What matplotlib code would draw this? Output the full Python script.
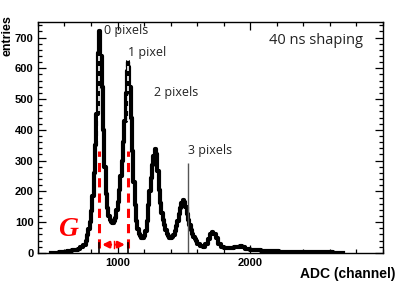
import matplotlib.pyplot as plt
from matplotlib.ticker import MultipleLocator

# ADC bin (left edge) and entries
adc = [500, 520, 540, 560, 580, 600, 620, 640, 660, 680, 700, 720, 740, 760, 770,
       780, 790, 800, 810, 820, 830, 840, 850, 855, 860, 865, 870, 880, 890, 900,
       910, 920, 930, 940, 950, 960, 970, 980, 990, 1000, 1010, 1020, 1030, 1040,
       1050, 1060, 1070, 1075, 1080, 1085, 1090, 1100, 1110, 1120, 1130, 1140,
       1150, 1160, 1170, 1180, 1190, 1200, 1210, 1220, 1230, 1240, 1250, 1260,
       1270, 1280, 1285, 1290, 1300, 1310, 1320, 1330, 1340, 1350, 1360, 1370,
       1380, 1390, 1400, 1410, 1420, 1430, 1440, 1450, 1460, 1470, 1480, 1490,
       1500, 1510, 1520, 1530, 1540, 1550, 1560, 1570, 1580, 1590, 1600, 1620,
       1640, 1660, 1680, 1700, 1710, 1720, 1740, 1760, 1780, 1800, 1820, 1840,
       1860, 1880, 1900, 1920, 1940, 1960, 1980, 2000, 2020, 2040, 2060, 2080,
       2100, 2120, 2140, 2160, 2180, 2200, 2220, 2240, 2260, 2280, 2300, 2340,
       2380, 2420, 2460, 2500, 2540, 2580, 2620, 2660, 2700]
entries = [0, 1, 1, 2, 3, 4, 5, 6, 8, 10, 13, 18, 26, 40, 58,
           78, 100, 135, 185, 260, 350, 450, 570, 650, 720, 690, 640, 540, 400, 280,
           190, 145, 120, 108, 102, 98, 104, 115, 138, 165, 205, 250, 300, 360,
           430, 520, 590, 620, 605, 590, 540, 440, 330, 230, 155, 105,
           78, 62, 55, 50, 48, 55, 72, 105, 155, 200, 245, 285,
           315, 330, 338, 322, 265, 205, 162, 130, 107, 90, 75, 62,
           55, 50, 48, 52, 58, 70, 88, 105, 125, 145, 162, 172,
           165, 148, 128, 108, 90, 75, 62, 52, 45, 38, 30, 22,
           19, 28, 45, 60, 68, 62, 48, 30, 20, 17, 15, 15,
           16, 18, 20, 22, 18, 14, 12, 10, 10, 9, 8, 7,
           7, 6, 6, 5, 5, 5, 4, 4, 4, 3, 3, 3,
           3, 2, 2, 3, 2, 2, 1, 1, 1]

# thin single-channel spike near the 3 pixel peak
spike_adc = [1532]
spike_val = [293]

# peaks used for the gain G
peak_adc = [862, 1078]

fig = plt.figure(figsize=(3.99, 2.99), dpi=100)
ax = fig.add_axes([0.095, 0.154, 0.865, 0.772])

ax.step(adc, entries, where='post', color='black', lw=3, zorder=3)
ax.vlines(spike_adc, 0, spike_val, color='#555555', lw=1, zorder=3)

ax.set_xlim(400, 3000)
ax.set_ylim(0, 750)

ax.xaxis.set_major_locator(MultipleLocator(1000))
ax.xaxis.set_minor_locator(MultipleLocator(200))
ax.yaxis.set_major_locator(MultipleLocator(100))
ax.yaxis.set_minor_locator(MultipleLocator(20))
ax.tick_params(which='both', direction='in', top=True, right=True, width=0.9)
ax.tick_params(which='major', length=6)
ax.tick_params(which='minor', length=3)
ax.tick_params(axis='y', pad=3)
ax.set_xticks([1000, 2000])
for lab in ax.get_xticklabels() + ax.get_yticklabels():
    lab.set_fontfamily('Liberation Sans')
    lab.set_fontweight('bold')
    lab.set_fontsize(8)
for s in ax.spines.values():
    s.set_linewidth(1)

# red dashed peak markers and the G arrow
for p in peak_adc:
    ax.plot([p, p], [15, 330], color='red', ls=(0, (3, 2)), lw=2.2, zorder=4)
    ax.plot([p, p], [330, 640], color='white', ls=(0, (3, 3)), lw=1.2, zorder=4)
    ax.plot([p, p], [0, 33], color='black', lw=1.2, zorder=4)
mid = (peak_adc[0] + peak_adc[1]) / 2
ax.annotate('', xy=(peak_adc[0], 27), xytext=(mid, 27),
            arrowprops=dict(arrowstyle='-|>', color='red', lw=2, mutation_scale=9), zorder=5)
ax.annotate('', xy=(peak_adc[1], 27), xytext=(mid, 27),
            arrowprops=dict(arrowstyle='-|>', color='red', lw=2, mutation_scale=9), zorder=5)
ax.plot([mid, mid], [15, 40], color='red', lw=1, zorder=5)
ax.text(625, 75, 'G', color='red', fontsize=20, family='Liberation Serif',
        style='italic', weight='bold', ha='center', va='center')

# peak labels
txt = dict(fontsize=9, family='Open Sans', color='#222222')
ax.text(895, 722, '0 pixels', ha='left', va='center', **txt)
ax.text(1075, 652, '1 pixel', ha='left', va='center', **txt)
ax.text(1275, 520, '2 pixels', ha='left', va='center', **txt)
ax.text(1530, 332, '3 pixels', ha='left', va='center', **txt)
ax.text(2850, 690, '40 ns shaping', ha='right', va='center', fontsize=10.5,
        family='Open Sans', color='#222222')

fig.text(0.02, 0.95, 'entries', rotation=90, ha='center', va='top',
         fontsize=9, weight='bold', family='Liberation Sans')
fig.text(0.99, 0.083, 'ADC (channel)', ha='right', va='center',
         fontsize=10, weight='bold', family='Liberation Sans')

fig.savefig('out.png', dpi=100)
